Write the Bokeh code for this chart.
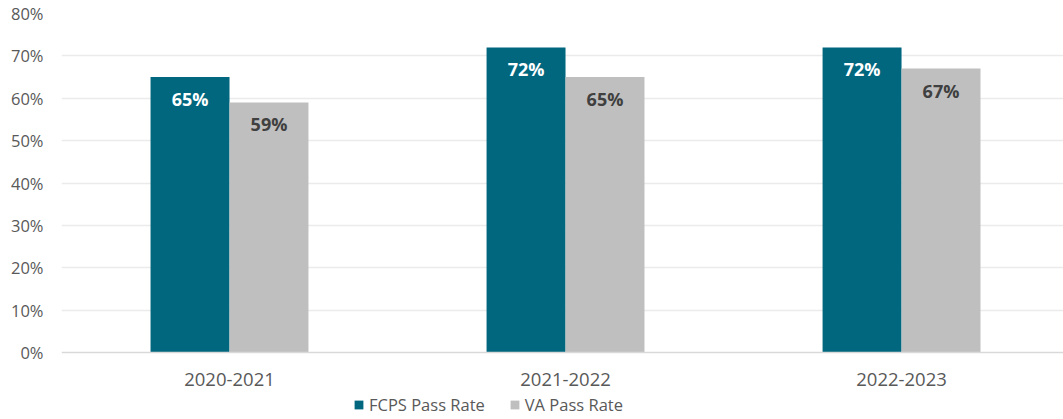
from bokeh.plotting import figure
from bokeh.models import Range1d, FixedTicker, ColumnDataSource, Legend, LegendItem, NumeralTickFormatter
from bokeh.core.properties import value
from bokeh.embed import file_html
from bokeh.resources import INLINE

categories = ["2020-2021", "2021-2022", "2022-2023"]
fcps = [0.65, 0.72, 0.72]
va = [0.59, 0.65, 0.67]
series_names = ["FCPS Pass Rate", "VA Pass Rate"]

FONT = "Open Sans"
TEAL = "#00677F"
GREY = "#BFBFBF"
TXT = "#595959"

xc = [i + 0.5 for i in range(len(categories))]
bw = 0.235
src = ColumnDataSource(dict(
    xf=[x - bw / 2 for x in xc], xv=[x + bw / 2 for x in xc],
    fcps=fcps, va=va,
    fl=[f"{round(v*100)}%" for v in fcps], vl=[f"{round(v*100)}%" for v in va],
))

p = figure(width=1063, height=419, output_backend="svg", toolbar_location=None,
           x_range=Range1d(0, 2.982), y_range=Range1d(-0.1581, 0.8),
           min_border_left=61, min_border_right=0, min_border_top=13, min_border_bottom=0)
p.outline_line_color = None
p.background_fill_color = "white"

r1 = p.vbar(x="xf", top="fcps", width=bw, source=src, fill_color=TEAL, line_color=None)
r2 = p.vbar(x="xv", top="va", width=bw, source=src, fill_color=GREY, line_color=None)

p.text(x="xf", y="fcps", text="fl", source=src, y_offset=22, text_align="center",
       text_baseline="middle", text_color="white", text_font=value(FONT),
       text_font_size="18px", text_font_style="bold")
p.text(x="xv", y="va", text="vl", source=src, y_offset=22, text_align="center",
       text_baseline="middle", text_color="#404040", text_font=value(FONT),
       text_font_size="18px", text_font_style="bold")

p.xaxis.fixed_location = 0
p.xaxis.ticker = FixedTicker(ticks=xc)
p.xaxis.major_label_overrides = {x: c for x, c in zip(xc, categories)}
p.xaxis.major_tick_line_color = None
p.xaxis.minor_tick_line_color = None
p.xaxis.axis_line_color = "#D9D9D9"
p.xaxis.axis_line_width = 1.5
p.xaxis.major_label_text_font = FONT
p.xaxis.major_label_text_font_size = "18.5px"
p.xaxis.major_label_text_color = TXT
p.xaxis.major_label_standoff = 14

p.yaxis.ticker = FixedTicker(ticks=[i / 10 for i in range(9)])
p.yaxis.formatter = NumeralTickFormatter(format="0%")
p.yaxis.axis_line_color = None
p.yaxis.major_tick_line_color = None
p.yaxis.minor_tick_line_color = None
p.yaxis.major_label_text_font = FONT
p.yaxis.major_label_text_font_size = "16.5px"
p.yaxis.major_label_text_color = TXT
p.yaxis.major_label_standoff = 12

p.xgrid.grid_line_color = None
p.ygrid.grid_line_color = "#EBEBEB"
p.ygrid.grid_line_width = 1.5
p.ygrid.ticker = FixedTicker(ticks=[i / 10 for i in range(1, 9)])

legend = Legend(items=[LegendItem(label=series_names[0], renderers=[r1]),
                       LegendItem(label=series_names[1], renderers=[r2])],
                orientation="horizontal", location=(292, 3),
                glyph_width=11, glyph_height=11, label_text_font=FONT,
                label_text_font_size="16.5px", label_text_color=TXT,
                border_line_color=None, background_fill_alpha=0,
                spacing=24, padding=0, margin=0, label_standoff=5)
p.add_layout(legend, "center")

open("out.html", "w").write(file_html(p, INLINE))
